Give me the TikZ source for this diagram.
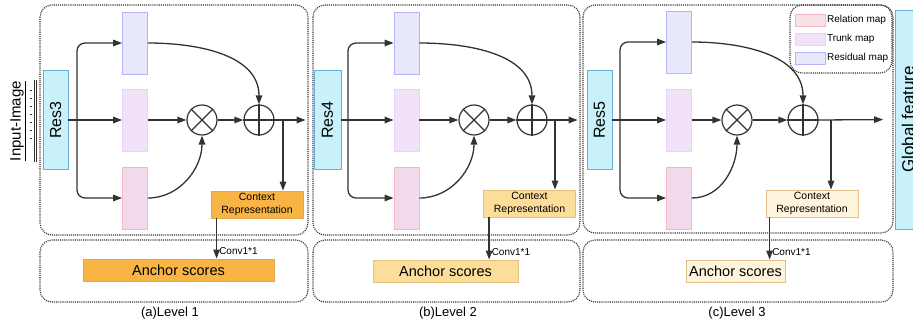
\documentclass[tikz,border=0pt]{standalone}
\usepackage{fontspec}
\setmainfont{Liberation Sans}
\usepackage{graphicx}
\usetikzlibrary{arrows.meta}

\definecolor{resfill}{HTML}{C9F1FC}
\definecolor{resline}{HTML}{6AADD0}
\definecolor{residfill}{HTML}{E8E8FC}
\definecolor{residline}{HTML}{B4B4F6}
\definecolor{trunkfill}{HTML}{F1E2F8}
\definecolor{trunkline}{HTML}{EAD2F4}
\definecolor{relfill}{HTML}{F2D9EC}
\definecolor{relline}{HTML}{F3B8C8}
\definecolor{legrelfill}{HTML}{F9E2E6}
\definecolor{ctxa}{HTML}{F8B444}
\definecolor{ctxaline}{HTML}{E2A64C}
\definecolor{ctxb}{HTML}{FCDD9A}
\definecolor{ctxbline}{HTML}{E4BF82}
\definecolor{ctxc}{HTML}{FFF4DC}
\definecolor{ctxcline}{HTML}{E2C08C}
\definecolor{ink}{HTML}{333333}

\begin{document}
\begin{tikzpicture}[x=1pt,y=-1pt,line width=1.3pt,draw=ink,
    >={Triangle[length=9pt,width=6.5pt]},
    frame/.style={draw=ink,densely dotted,rounded corners=12pt,line width=1.1pt},
    res/.style={draw=resline,fill=resfill,line width=0.8pt,minimum width=25pt,minimum height=99pt,inner sep=0pt,font=\fontsize{16}{18}\selectfont},
    resid/.style={draw=residline,fill=residfill,line width=0.8pt,minimum width=25pt,minimum height=62pt,inner sep=0pt},
    trunk/.style={draw=trunkline,fill=trunkfill,line width=0.8pt,minimum width=25pt,minimum height=62pt,inner sep=0pt},
    rel/.style={draw=relline,fill=relfill,line width=0.8pt,minimum width=25pt,minimum height=62pt,inner sep=0pt},
    op/.style={draw=ink,circle,minimum size=30pt,inner sep=0pt,line width=1.2pt},
    ctx/.style={line width=0.8pt,minimum width=92pt,minimum height=27pt,inner sep=0pt,align=center,font=\fontsize{10.5}{13}\selectfont},
    anchorbox/.style={line width=0.8pt,minimum height=22pt,inner sep=0pt,font=\fontsize{14.5}{16}\selectfont},
    conv/.style={right,inner sep=2pt,font=\fontsize{10}{12}\selectfont},
    caption/.style={font=\fontsize{13}{15}\selectfont},
    swatch/.style={line width=0.8pt,minimum width=30pt,minimum height=12pt,inner sep=0pt},
    legtext/.style={right,inner sep=1pt,font=\fontsize{10}{12}\selectfont}]
  \useasboundingbox (0,0) rectangle (913,325);

  % frames
  \draw[frame] (40,5) rectangle (308,235);
  \draw[frame] (40,240) rectangle (308,302);
  \draw[frame] (313,5) rectangle (580,235);
  \draw[frame] (313,240) rectangle (580,302);
  \draw[frame] (583,5) rectangle (893,233);
  \draw[frame] (583,240) rectangle (893,302);
  \draw[frame] (790,5) rectangle (892,73);

  % input
  \node[rotate=90,inner sep=0pt,font=\fontsize{15}{18}\selectfont] (input) at (18,121) {\underline{Input-Image}};
  \draw[line width=0.7pt] (34,80) -- (34,162);
  \draw[line width=0.7pt] (36.5,80) -- (36.5,162);
  \draw[line width=1.2pt,dash pattern=on 1pt off 7pt] (31,90) -- (31,145);

  % level 1
  \node[res] (res3) at (55.5,120) {\rotatebox{90}{Res3}};
  \node[resid] (resid1) at (135,43) {};
  \node[trunk] (trunk1) at (135,120) {};
  \node[rel] (rel1) at (135,198) {};
  \node[op] (mul1) at (202,120) {};
  \node[op] (add1) at (259,120) {};
  \draw (mul1.45) -- (mul1.225) (mul1.135) -- (mul1.315);
  \draw (add1.north) -- (add1.south) (add1.east) -- (add1.west);
  \node[ctx,draw=ctxaline,fill=ctxa] (ctx1) at (257,204.5) {Context\\Representation};
  \node[anchorbox,draw=ctxaline,fill=ctxa,minimum width=191pt] (anc1) at (178.5,270) {Anchor scores};
  \node[caption] (cap1) at (170,313) {(a)Level 1};
  \coordinate (split1) at (77,120);
  \coordinate (tap1) at (283,120);

  % level 2
  \node[res,minimum width=27pt] (res4) at (327.5,120) {\rotatebox{90}{Res4}};
  \node[resid] (resid2) at (406.5,43) {};
  \node[trunk] (trunk2) at (406.5,120) {};
  \node[rel] (rel2) at (406.5,198) {};
  \node[op] (mul2) at (474,120) {};
  \node[op] (add2) at (532,120) {};
  \draw (mul2.45) -- (mul2.225) (mul2.135) -- (mul2.315);
  \draw (add2.north) -- (add2.south) (add2.east) -- (add2.west);
  \node[ctx,draw=ctxbline,fill=ctxb] (ctx2) at (529.5,203.5) {Context\\Representation};
  \node[anchorbox,draw=ctxbline,fill=ctxb,minimum width=145pt] (anc2) at (445.5,271) {Anchor scores};
  \node[caption] (cap2) at (448,313) {(b)Level 2};
  \coordinate (split2) at (348,120);
  \coordinate (tap2) at (555,120);

  % level 3
  \node[res] (res5) at (599.5,120) {\rotatebox{90}{Res5}};
  \node[resid] (resid3) at (679,42) {};
  \node[trunk] (trunk3) at (679,120) {};
  \node[rel] (rel3) at (679,198) {};
  \node[op] (mul3) at (737,120) {};
  \node[op] (add3) at (803,120) {};
  \draw (mul3.45) -- (mul3.225) (mul3.135) -- (mul3.315);
  \draw (add3.north) -- (add3.south) (add3.east) -- (add3.west);
  \node[ctx,draw=ctxcline,fill=ctxc] (ctx3) at (812,203.5) {Context\\Representation};
  \node[anchorbox,draw=ctxcline,fill=ctxc,minimum width=99pt] (anc3) at (735.5,271) {Anchor scores};
  \node[caption] (cap3) at (737,313) {(c)Level 3};
  \coordinate (split3) at (620,120);
  \coordinate (tap3) at (831,120);

  \node[res,minimum height=219pt,font=\fontsize{17}{19}\selectfont] (global) at (908,119.5) {\rotatebox{90}{Global feature}};

  % legend
  \node[swatch,draw=relline,fill=legrelfill] (legrel) at (810,20) {};
  \node[swatch,draw=trunkline,fill=trunkfill] (legtrunk) at (810,39) {};
  \node[swatch,draw=residline,fill=residfill] (legresid) at (810,58) {};
  \node[legtext] (legreltext) at (legrel.east) {Relation map};
  \node[legtext] (legtrunktext) at (legtrunk.east) {Trunk map};
  \node[legtext] (legresidtext) at (legresid.east) {Residual map};

  % connectors
  \begin{scope}[->]
    \draw (res3.east) -- (trunk1.west);
    \draw[rounded corners=8pt] (split1) |- (resid1.west);
    \draw[rounded corners=8pt] (split1) |- (rel1.west);
    \draw (trunk1.east) -- (mul1.west);
    \draw (mul1.east) -- (add1.west);
    \draw (resid1.east) to[out=0,in=90] (add1.north);
    \draw (rel1.east) to[out=0,in=-90] (mul1.south);
    \draw[shorten >=8pt] (add1.east) -- (res4.west);
    \draw (tap1) -- (tap1 |- ctx1.north);
    \draw ([xshift=6pt]ctx1.south west) -- ([xshift=6pt]ctx1.south west |- anc1.north) node[conv,pos=0.82] (conv1) {Conv1*1};

    \draw (res4.east) -- (trunk2.west);
    \draw[rounded corners=8pt] (split2) |- (resid2.west);
    \draw[rounded corners=8pt] (split2) |- (rel2.west);
    \draw (trunk2.east) -- (mul2.west);
    \draw (mul2.east) -- (add2.west);
    \draw (resid2.east) to[out=0,in=90] (add2.north);
    \draw (rel2.east) to[out=0,in=-90] (mul2.south);
    \draw[shorten >=9pt] (add2.east) -- (res5.west);
    \draw (tap2) -- (tap2 |- ctx2.north);
    \draw ([xshift=6pt]ctx2.south west) -- ([xshift=6pt]ctx2.south west |- anc2.north) node[conv,pos=0.82] (conv2) {Conv1*1};

    \draw (res5.east) -- (trunk3.west);
    \draw[rounded corners=8pt] (split3) |- (resid3.west);
    \draw[rounded corners=8pt] (split3) |- (rel3.west);
    \draw (trunk3.east) -- (mul3.west);
    \draw (mul3.east) -- (add3.west);
    \draw (resid3.east) to[out=0,in=90] (add3.north);
    \draw (rel3.east) to[out=0,in=-90] (mul3.south);
    \draw[shorten >=12pt] (add3.east) -- (global.west);
    \draw (tap3) -- (tap3 |- ctx3.north);
    \draw ([xshift=4pt]ctx3.south west) -- ([xshift=4pt]ctx3.south west |- anc3.north) node[conv,pos=0.82] (conv3) {Conv1*1};
  \end{scope}
\end{tikzpicture}
\end{document}
